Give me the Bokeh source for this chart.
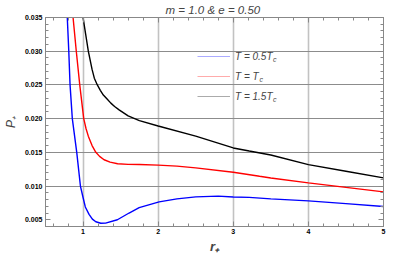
from bokeh.plotting import figure
from bokeh.models import (LinearAxis, FixedTicker, Legend, LegendItem, Label,
                          Range1d, CustomJSTickFormatter)
from bokeh.embed import file_html
from bokeh.resources import INLINE

# ---- data ----
r_blue = [0.79, 0.81, 0.827, 0.857, 0.916, 0.965, 1.0, 1.03, 1.08, 1.124, 1.17, 1.236, 1.3,
          1.457, 1.613, 1.747, 2.013, 2.25, 2.5, 2.8, 3.0, 3.213, 3.5, 4.0, 4.5, 5.0]
p_blue = [0.035, 0.030, 0.025, 0.020, 0.015, 0.010, 0.0083, 0.0069, 0.0058, 0.0051, 0.0047, 0.00448, 0.0045,
          0.0050, 0.0060, 0.0068, 0.00765, 0.0081, 0.0084, 0.0085, 0.00838, 0.00832, 0.0081, 0.0078, 0.0074, 0.00696]

r_red = [0.867, 0.91, 0.956, 1.009, 1.04, 1.07, 1.12, 1.17, 1.22, 1.28, 1.36, 1.46, 1.6, 1.75,
         2.0, 2.25, 2.5, 3.0, 3.35, 3.5, 4.0, 4.5, 5.0]
p_red = [0.035, 0.030, 0.025, 0.020, 0.0185, 0.0174, 0.0160, 0.0150, 0.0144, 0.0139, 0.01355, 0.0133,
         0.01322, 0.0132, 0.0131, 0.01295, 0.0127, 0.01205, 0.01145, 0.0112, 0.01047, 0.0098, 0.00914]

r_black = [1.0, 1.035, 1.07, 1.12, 1.15, 1.19, 1.23, 1.27, 1.32, 1.37, 1.42, 1.48, 1.6, 1.75, 2.0,
           2.5, 3.0, 3.213, 3.5, 4.0, 4.5, 5.0]
p_black = [0.035, 0.0325, 0.030, 0.0273, 0.0260, 0.0250, 0.0242, 0.0235, 0.0229, 0.0223, 0.0218, 0.0213,
           0.0204, 0.0197, 0.0189, 0.0174, 0.01565, 0.0152, 0.0146, 0.01318, 0.0122, 0.01122]

x_ticks = [1, 2, 3, 4, 5]
y_ticks = [0.005, 0.010, 0.015, 0.020, 0.025, 0.030, 0.035]
x_grid = [1, 2, 3, 4]
y_grid = [0.010, 0.015, 0.020, 0.025, 0.030]
legend_labels = ["T = 0.5T", "T = T", "T = 1.5T"]
title_text = "m = 1.0  & e = 0.50"
colors = ["#0000ff", "#ff0000", "#000000"]

FONT = "Liberation Sans"
GRAY = "#888888"
FW, FH = 338, 209

p = figure(frame_width=FW, frame_height=FH, x_range=Range1d(0.5, 5), y_range=Range1d(0.004, 0.035),
           output_backend="svg", toolbar_location=None,
           min_border_left=38, min_border_right=20, min_border_top=0, min_border_bottom=27)
p.background_fill_color = "white"
p.outline_line_color = GRAY
p.outline_line_width = 1

p.title.text = title_text
p.title.align = "center"
p.title.text_font = FONT
p.title.text_font_style = "italic"
p.title.text_font_size = "11.5px"
p.title.standoff = 3
p.title.offset = 0

x_minor = [round(0.6 + 0.2 * i, 2) for i in range(23)]
x_minor = [v for v in x_minor if v not in x_ticks]
y_minor = [round(0.004 + 0.001 * i, 3) for i in range(32)]
y_minor = [v for v in y_minor if v not in [round(t, 3) for t in y_ticks]]

def style_axis(ax):
    ax.axis_line_color = GRAY
    ax.major_tick_line_color = GRAY
    ax.minor_tick_line_color = GRAY
    ax.major_tick_in = 5
    ax.major_tick_out = 0
    ax.minor_tick_in = 3
    ax.minor_tick_out = 0
    ax.major_label_text_font = FONT
    ax.major_label_text_font_style = "bold"
    ax.major_label_text_font_size = "7px"
    ax.major_label_text_color = "black"

p.xaxis.ticker = FixedTicker(ticks=x_ticks, minor_ticks=x_minor)
p.yaxis.ticker = FixedTicker(ticks=y_ticks, minor_ticks=y_minor)
style_axis(p.xaxis[0])
style_axis(p.yaxis[0])
p.xaxis.major_label_standoff = 2
p.yaxis.major_label_standoff = 3
p.yaxis.formatter = CustomJSTickFormatter(code="return tick.toFixed(3)")

p.xaxis.axis_label = "r\u208a"
p.xaxis.axis_label_text_font = FONT
p.xaxis.axis_label_text_font_style = "bold italic"
p.xaxis.axis_label_text_font_size = "13px"
p.xaxis.axis_label_standoff = 2
p.yaxis.axis_label = "P\u208a"
p.yaxis.axis_label_text_font = FONT
p.yaxis.axis_label_text_font_style = "italic"
p.yaxis.axis_label_text_font_size = "12px"
p.yaxis.axis_label_standoff = 4

blank = CustomJSTickFormatter(code="return ''")
rax = LinearAxis(ticker=FixedTicker(ticks=y_ticks, minor_ticks=y_minor), formatter=blank)
style_axis(rax)
rax.major_label_standoff = 0
rax.major_label_text_font_size = "1px"
p.add_layout(rax, "right")
tax = LinearAxis(ticker=FixedTicker(ticks=x_ticks, minor_ticks=x_minor), formatter=blank)
style_axis(tax)
tax.major_label_standoff = 0
tax.major_label_text_font_size = "1px"
p.add_layout(tax, "above")

p.xgrid.ticker = FixedTicker(ticks=x_grid)
p.ygrid.ticker = FixedTicker(ticks=y_grid)
p.xgrid.grid_line_color = "#c2c2c2"
p.xgrid.grid_line_width = 1.6
p.ygrid.grid_line_color = "#8c8c8c"
p.ygrid.grid_line_width = 1.1

for rs, ps, c in [(r_blue, p_blue, colors[0]), (r_red, p_red, colors[1]), (r_black, p_black, colors[2])]:
    p.line(rs, ps, line_color=c, line_width=1.4)

# legend with faded sample lines, as in the reference
dummies = [p.line(x=[rs[0]], y=[ps[0]], line_color=c, line_alpha=0.33, line_width=1.2)
           for rs, ps, c in [(r_blue, p_blue, colors[0]), (r_red, p_red, colors[1]),
                             (r_black, p_black, colors[2])]]
items = [LegendItem(label=l, renderers=[d]) for l, d in zip(legend_labels, dummies)]
row0 = 39  # centre of first row below frame top
vy = FH - row0 - 10 - 40
leg = Legend(items=items, location=(152, vy), padding=0, margin=0, spacing=0,
             label_height=20, glyph_height=20, glyph_width=33, label_standoff=5,
             border_line_alpha=0, background_fill_alpha=0,
             label_text_font=FONT, label_text_font_size="10px", label_text_font_style="italic")
p.add_layout(leg)

sub_x = [227.5, 214.0, 227.5]
for i, sx in enumerate(sub_x):
    p.add_layout(Label(x=sx, y=vy + 50 - 20 * i - 3, x_units="screen", y_units="screen", text="c",
                       text_font=FONT, text_font_size="7px", text_font_style="italic",
                       text_baseline="middle", text_align="left"))

open("out.html", "w").write(file_html(p, INLINE))
